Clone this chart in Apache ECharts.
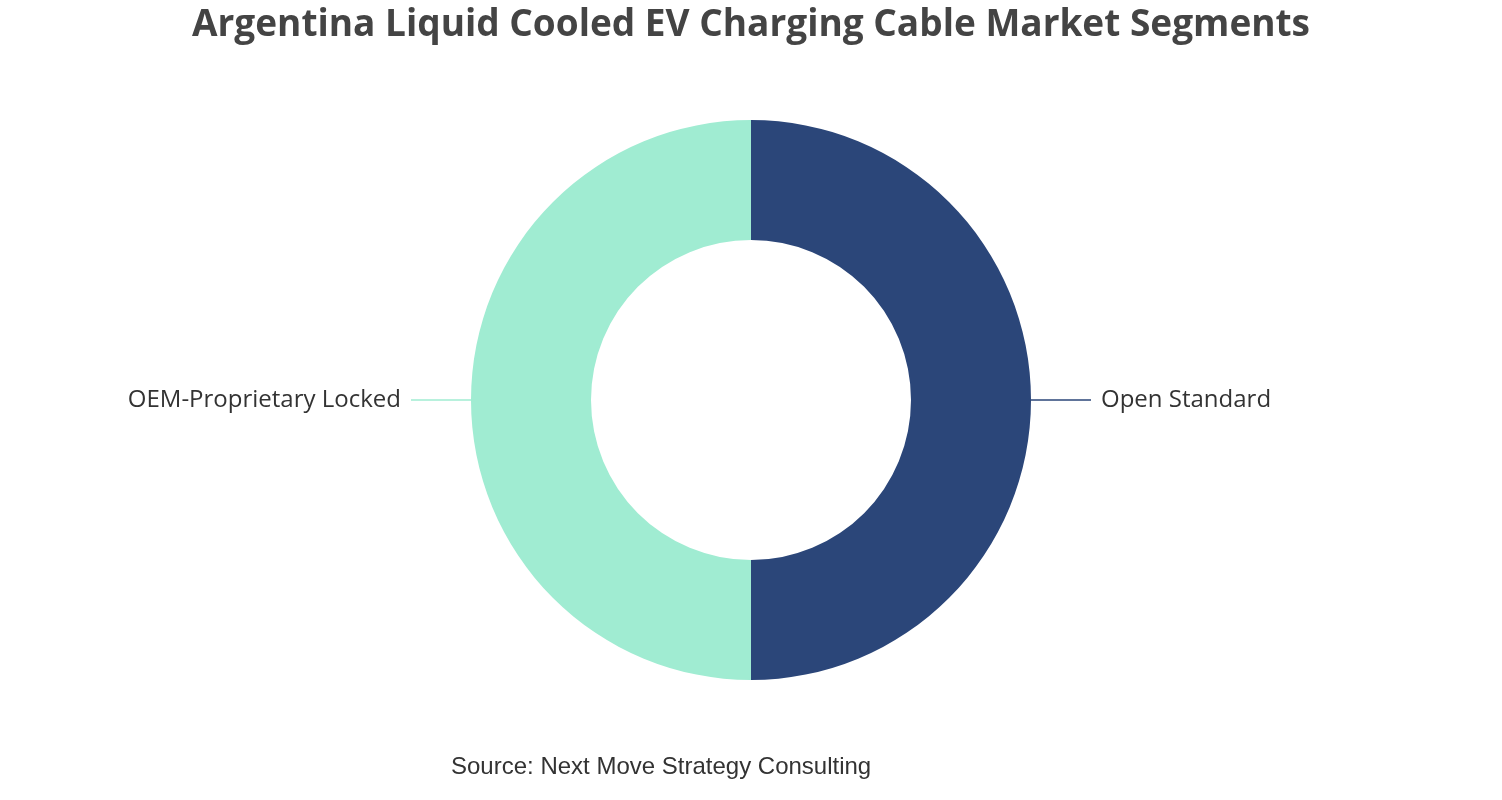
<!DOCTYPE html>
<html>
<head>
<meta charset="utf-8">
<title>Argentina Liquid Cooled EV Charging Cable Market Segments</title>
<script src="https://cdn.jsdelivr.net/npm/echarts@6/dist/echarts.min.js"></script>
<style>
  html, body { margin: 0; padding: 0; background: #fff; }
  #chart { width: 1502px; height: 800px; }
</style>
</head>
<body>
<div id="chart"></div>
<script>
// segment names and shares
var segmentNames = ["Open Standard", "OEM-Proprietary Locked"];
var segmentValues = [50, 50];
var segmentColors = ["#2b4679", "#a0ecd2"];

var pieData = [];
for (var i = 0; i < segmentNames.length; i++) {
	pieData.push({
		name: segmentNames[i],
		value: segmentValues[i],
		itemStyle: { color: segmentColors[i] }
	});
}

var chart = echarts.init(document.getElementById('chart'));

var option = {
	backgroundColor: '#ffffff',
	title: [{
		text: 'Argentina Liquid Cooled EV Charging Cable Market Segments',
		left: 'center',
		top: 2,
		textStyle: {
			fontFamily: 'Open Sans',
			fontWeight: 'bold',
			fontSize: 37,
			color: '#444444'
		}
	}, {
		text: 'Source: Next Move Strategy Consulting',
		left: 446,
		top: 750,
		textStyle: {
			fontFamily: 'Liberation Sans',
			fontWeight: 'normal',
			fontSize: 24,
			color: '#333333'
		}
	}],
	series: [{
		type: 'pie',
		center: [751, 400],
		radius: [160, 280],
		startAngle: 90,
		clockwise: true,
		silent: true,
		data: pieData,
		label: {
			show: true,
			formatter: '{b}',
			fontFamily: 'Open Sans',
			fontSize: 24,
			color: '#333333',
			distanceToLabelLine: 10
		},
		labelLine: {
			show: true,
			length: 30,
			length2: 30,
			lineStyle: { width: 1.5, opacity: 1 }
		}
	}]
};

chart.setOption(option);
</script>
</body>
</html>
